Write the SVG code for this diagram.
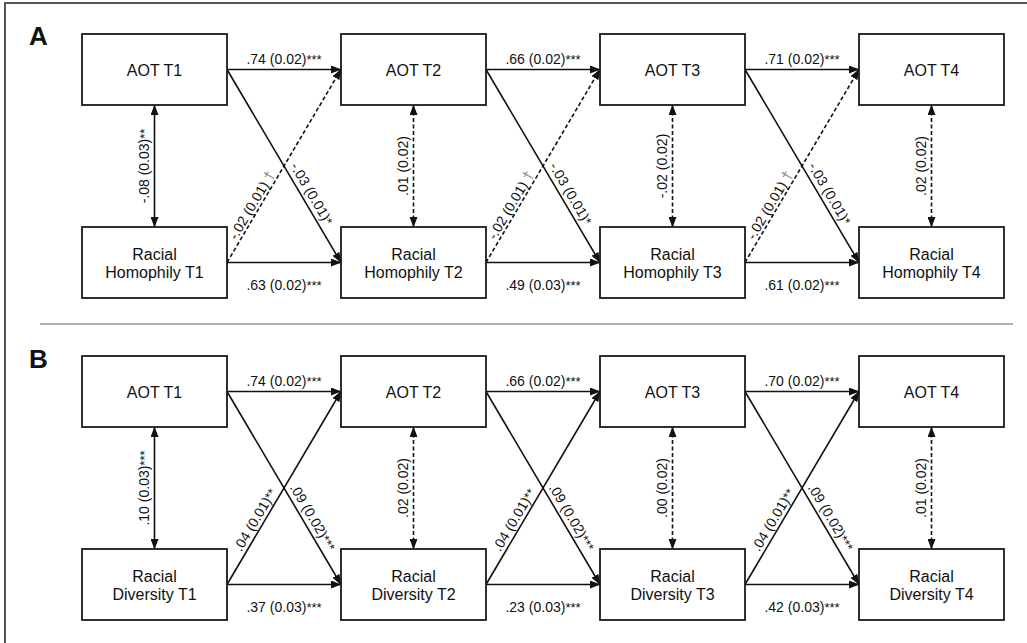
<svg xmlns="http://www.w3.org/2000/svg" width="1027" height="643" viewBox="0 0 1027 643">
<defs>
<style>
.box{fill:#fff;stroke:#1a1a1a;stroke-width:1.8}
.nt{font-family:"Liberation Sans",Arial,sans-serif;font-size:16px;fill:#111;text-anchor:middle}
.el{font-family:"Liberation Sans",Arial,sans-serif;font-size:14px;fill:#111;text-anchor:middle}
.st{font-size:13px}
.dg{fill:#888;font-size:15px}
.pl{font-family:"Liberation Sans",Arial,sans-serif;font-size:26px;font-weight:bold;fill:#111}
.ln{fill:none;stroke:#111;stroke-width:1.6}
.ds{stroke-dasharray:4 2.5}
.ar{marker-end:url(#ah)}
.dbl{marker-end:url(#ah);marker-start:url(#ah)}
</style>
<marker id="ah" markerUnits="userSpaceOnUse" markerWidth="11" markerHeight="8" refX="10" refY="4" orient="auto-start-reverse" viewBox="0 0 11 8">
<path d="M0,0 L10.5,4 L0,8 Z" fill="#111"/>
</marker>
</defs>
<rect width="1027" height="643" fill="#fff"/>
<path d="M5,643 V3 H1027" fill="none" stroke="#555" stroke-width="2"/>
<line x1="40" y1="324" x2="1013" y2="324" stroke="#999" stroke-width="1.5"/>
<text class="pl" x="29" y="45">A</text>
<text class="pl" x="29" y="368">B</text>

<g id="connectors">
<path class="ln ar" d="M227,69.5 H341"/>
<path class="ln ar" d="M486,69.5 H600"/>
<path class="ln ar" d="M745,69.5 H859"/>
<path class="ln ar" d="M227,262.5 H341"/>
<path class="ln ar" d="M486,262.5 H600"/>
<path class="ln ar" d="M745,262.5 H859"/>
<path class="ln ar" d="M227,69.5 L341,262.5"/>
<path class="ln ar" d="M486,69.5 L600,262.5"/>
<path class="ln ar" d="M745,69.5 L859,262.5"/>
<path class="ln ds ar" d="M227,262.5 L341,69.5"/>
<path class="ln ds ar" d="M486,262.5 L600,69.5"/>
<path class="ln ds ar" d="M745,262.5 L859,69.5"/>
<path class="ln dbl" d="M154.5,105 V227"/>
<path class="ln ds dbl" d="M413.5,105 V227"/>
<path class="ln ds dbl" d="M672.5,105 V227"/>
<path class="ln ds dbl" d="M931.5,105 V227"/>
<path class="ln ar" d="M227,391.5 H341"/>
<path class="ln ar" d="M486,391.5 H600"/>
<path class="ln ar" d="M745,391.5 H859"/>
<path class="ln ar" d="M227,584.5 H341"/>
<path class="ln ar" d="M486,584.5 H600"/>
<path class="ln ar" d="M745,584.5 H859"/>
<path class="ln ar" d="M227,391.5 L341,584.5"/>
<path class="ln ar" d="M486,391.5 L600,584.5"/>
<path class="ln ar" d="M745,391.5 L859,584.5"/>
<path class="ln ar" d="M227,584.5 L341,391.5"/>
<path class="ln ar" d="M486,584.5 L600,391.5"/>
<path class="ln ar" d="M745,584.5 L859,391.5"/>
<path class="ln dbl" d="M154.5,427 V549"/>
<path class="ln ds dbl" d="M413.5,427 V549"/>
<path class="ln ds dbl" d="M672.5,427 V549"/>
<path class="ln ds dbl" d="M931.5,427 V549"/>

<text class="el" x="284" y="63.5">.74 (0.02)<tspan class="st">***</tspan></text>
<text class="el" x="543" y="63.5">.66 (0.02)<tspan class="st">***</tspan></text>
<text class="el" x="802" y="63.5">.71 (0.02)<tspan class="st">***</tspan></text>
<text class="el" x="284" y="289.5">.63 (0.02)<tspan class="st">***</tspan></text>
<text class="el" x="543" y="289.5">.49 (0.03)<tspan class="st">***</tspan></text>
<text class="el" x="802" y="289.5">.61 (0.02)<tspan class="st">***</tspan></text>
<text class="el" transform="translate(149,166) rotate(-90)">-.08 (0.03)<tspan class="st">**</tspan></text>
<text class="el" transform="translate(408,166) rotate(-90)">.01 (0.02)</text>
<text class="el" transform="translate(667,166) rotate(-90)">-.02 (0.02)</text>
<text class="el" transform="translate(926,166) rotate(-90)">.02 (0.02)</text>
<text class="el" transform="translate(227,69.5) rotate(59.43)" x="150" y="-5">-.03 (0.01)<tspan class="st">*</tspan></text>
<text class="el" transform="translate(486,69.5) rotate(59.43)" x="150" y="-5">-.03 (0.01)<tspan class="st">*</tspan></text>
<text class="el" transform="translate(745,69.5) rotate(59.43)" x="150" y="-5">-.03 (0.01)<tspan class="st">*</tspan></text>
<text class="el" transform="translate(227,262.5) rotate(-59.43)" x="62" y="-3">-.02 (0.01) <tspan class="dg">†</tspan></text>
<text class="el" transform="translate(486,262.5) rotate(-59.43)" x="62" y="-3">-.02 (0.01) <tspan class="dg">†</tspan></text>
<text class="el" transform="translate(745,262.5) rotate(-59.43)" x="62" y="-3">-.02 (0.01) <tspan class="dg">†</tspan></text>

<text class="el" x="284" y="385.5">.74 (0.02)<tspan class="st">***</tspan></text>
<text class="el" x="543" y="385.5">.66 (0.02)<tspan class="st">***</tspan></text>
<text class="el" x="802" y="385.5">.70 (0.02)<tspan class="st">***</tspan></text>
<text class="el" x="284" y="612">.37 (0.03)<tspan class="st">***</tspan></text>
<text class="el" x="543" y="612">.23 (0.03)<tspan class="st">***</tspan></text>
<text class="el" x="802" y="612">.42 (0.03)<tspan class="st">***</tspan></text>
<text class="el" transform="translate(149,488) rotate(-90)">.10 (0.03)<tspan class="st">***</tspan></text>
<text class="el" transform="translate(408,488) rotate(-90)">.02 (0.02)</text>
<text class="el" transform="translate(667,488) rotate(-90)">.00 (0.02)</text>
<text class="el" transform="translate(926,488) rotate(-90)">.01 (0.02)</text>
<text class="el" transform="translate(227,391.5) rotate(59.43)" x="152" y="-5">.09 (0.02)<tspan class="st">***</tspan></text>
<text class="el" transform="translate(486,391.5) rotate(59.43)" x="152" y="-5">.09 (0.02)<tspan class="st">***</tspan></text>
<text class="el" transform="translate(745,391.5) rotate(59.43)" x="152" y="-5">.09 (0.02)<tspan class="st">***</tspan></text>
<text class="el" transform="translate(227,584.5) rotate(-59.43)" x="70" y="-4">.04 (0.01)<tspan class="st">**</tspan></text>
<text class="el" transform="translate(486,584.5) rotate(-59.43)" x="70" y="-4">.04 (0.01)<tspan class="st">**</tspan></text>
<text class="el" transform="translate(745,584.5) rotate(-59.43)" x="70" y="-4">.04 (0.01)<tspan class="st">**</tspan></text>
</g>

<g id="A_AOT_T1"><rect class="box" x="82" y="34" width="145" height="71"/><text class="nt" x="154.5" y="75.5">AOT T1</text></g>
<g id="A_AOT_T2"><rect class="box" x="341" y="34" width="145" height="71"/><text class="nt" x="413.5" y="75.5">AOT T2</text></g>
<g id="A_AOT_T3"><rect class="box" x="600" y="34" width="145" height="71"/><text class="nt" x="672.5" y="75.5">AOT T3</text></g>
<g id="A_AOT_T4"><rect class="box" x="859" y="34" width="145" height="71"/><text class="nt" x="931.5" y="75.5">AOT T4</text></g>
<g id="A_RH_T1"><rect class="box" x="82" y="227" width="145" height="71"/><text class="nt" x="154.5" y="259.5">Racial</text><text class="nt" x="154.5" y="277.5">Homophily T1</text></g>
<g id="A_RH_T2"><rect class="box" x="341" y="227" width="145" height="71"/><text class="nt" x="413.5" y="259.5">Racial</text><text class="nt" x="413.5" y="277.5">Homophily T2</text></g>
<g id="A_RH_T3"><rect class="box" x="600" y="227" width="145" height="71"/><text class="nt" x="672.5" y="259.5">Racial</text><text class="nt" x="672.5" y="277.5">Homophily T3</text></g>
<g id="A_RH_T4"><rect class="box" x="859" y="227" width="145" height="71"/><text class="nt" x="931.5" y="259.5">Racial</text><text class="nt" x="931.5" y="277.5">Homophily T4</text></g>

<g id="B_AOT_T1"><rect class="box" x="82" y="356" width="145" height="71"/><text class="nt" x="154.5" y="397.5">AOT T1</text></g>
<g id="B_AOT_T2"><rect class="box" x="341" y="356" width="145" height="71"/><text class="nt" x="413.5" y="397.5">AOT T2</text></g>
<g id="B_AOT_T3"><rect class="box" x="600" y="356" width="145" height="71"/><text class="nt" x="672.5" y="397.5">AOT T3</text></g>
<g id="B_AOT_T4"><rect class="box" x="859" y="356" width="145" height="71"/><text class="nt" x="931.5" y="397.5">AOT T4</text></g>
<g id="B_RD_T1"><rect class="box" x="82" y="549" width="145" height="71"/><text class="nt" x="154.5" y="581.5">Racial</text><text class="nt" x="154.5" y="599.5">Diversity T1</text></g>
<g id="B_RD_T2"><rect class="box" x="341" y="549" width="145" height="71"/><text class="nt" x="413.5" y="581.5">Racial</text><text class="nt" x="413.5" y="599.5">Diversity T2</text></g>
<g id="B_RD_T3"><rect class="box" x="600" y="549" width="145" height="71"/><text class="nt" x="672.5" y="581.5">Racial</text><text class="nt" x="672.5" y="599.5">Diversity T3</text></g>
<g id="B_RD_T4"><rect class="box" x="859" y="549" width="145" height="71"/><text class="nt" x="931.5" y="599.5">Diversity T4</text><text class="nt" x="931.5" y="581.5">Racial</text></g>
</svg>
